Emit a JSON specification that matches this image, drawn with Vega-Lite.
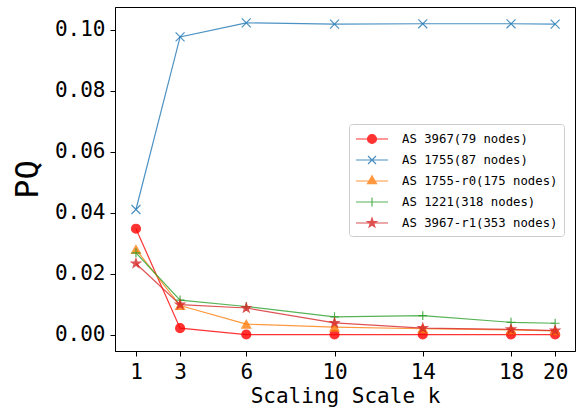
{
  "$schema": "https://vega.github.io/schema/vega-lite/v6.json",
  "autosize": {"type": "none"},
  "padding": {"left": 115, "top": 7, "right": 7, "bottom": 60},
  "width": 460,
  "height": 344,
  "background": "white",
  "config": {
    "view": {"stroke": "black", "strokeWidth": 1},
    "axis": {
      "domainColor": "black", "tickColor": "black", "labelColor": "black", "titleColor": "black",
      "tickSize": 5, "tickWidth": 1, "grid": false,
      "labelFont": "DejaVu Sans Mono", "labelFontSize": 21,
      "titleFont": "DejaVu Sans Mono", "titleFontWeight": "normal"
    },
    "legend": {
      "title": null, "orient": "none", "legendX": 234, "legendY": 117,
      "padding": 6, "fillColor": "rgba(255,255,255,0.8)", "strokeColor": "#cccccc", "cornerRadius": 3,
      "symbolSize": 256, "symbolOffset": 8, "labelOffset": 21, "rowPadding": 5, "symbolStrokeWidth": 1.2,
      "labelFont": "DejaVu Sans Mono", "labelFontSize": 12.3, "labelColor": "black", "labelLimit": 300
    }
  },
  "data": {"values": [
    {"k": 1, "series": "AS 3967(79 nodes)", "pq": 0.0347},
    {"k": 3, "series": "AS 3967(79 nodes)", "pq": 0.0021},
    {"k": 6, "series": "AS 3967(79 nodes)", "pq": 0.0},
    {"k": 10, "series": "AS 3967(79 nodes)", "pq": 0.0},
    {"k": 14, "series": "AS 3967(79 nodes)", "pq": 0.0},
    {"k": 18, "series": "AS 3967(79 nodes)", "pq": 0.0},
    {"k": 20, "series": "AS 3967(79 nodes)", "pq": 0.0},
    {"k": 1, "series": "AS 1755(87 nodes)", "pq": 0.041},
    {"k": 3, "series": "AS 1755(87 nodes)", "pq": 0.0976},
    {"k": 6, "series": "AS 1755(87 nodes)", "pq": 0.1022},
    {"k": 10, "series": "AS 1755(87 nodes)", "pq": 0.1018},
    {"k": 14, "series": "AS 1755(87 nodes)", "pq": 0.1019},
    {"k": 18, "series": "AS 1755(87 nodes)", "pq": 0.1019},
    {"k": 20, "series": "AS 1755(87 nodes)", "pq": 0.1018},
    {"k": 1, "series": "AS 1755-r0(175 nodes)", "pq": 0.0279},
    {"k": 3, "series": "AS 1755-r0(175 nodes)", "pq": 0.0095},
    {"k": 6, "series": "AS 1755-r0(175 nodes)", "pq": 0.0034},
    {"k": 10, "series": "AS 1755-r0(175 nodes)", "pq": 0.0024},
    {"k": 14, "series": "AS 1755-r0(175 nodes)", "pq": 0.0019},
    {"k": 18, "series": "AS 1755-r0(175 nodes)", "pq": 0.0015},
    {"k": 20, "series": "AS 1755-r0(175 nodes)", "pq": 0.0012},
    {"k": 1, "series": "AS 1221(318 nodes)", "pq": 0.0268},
    {"k": 3, "series": "AS 1221(318 nodes)", "pq": 0.0113},
    {"k": 6, "series": "AS 1221(318 nodes)", "pq": 0.0092},
    {"k": 10, "series": "AS 1221(318 nodes)", "pq": 0.0058},
    {"k": 14, "series": "AS 1221(318 nodes)", "pq": 0.0062},
    {"k": 18, "series": "AS 1221(318 nodes)", "pq": 0.004},
    {"k": 20, "series": "AS 1221(318 nodes)", "pq": 0.0037},
    {"k": 1, "series": "AS 3967-r1(353 nodes)", "pq": 0.0233},
    {"k": 3, "series": "AS 3967-r1(353 nodes)", "pq": 0.0098},
    {"k": 6, "series": "AS 3967-r1(353 nodes)", "pq": 0.0087},
    {"k": 10, "series": "AS 3967-r1(353 nodes)", "pq": 0.0038},
    {"k": 14, "series": "AS 3967-r1(353 nodes)", "pq": 0.0021},
    {"k": 18, "series": "AS 3967-r1(353 nodes)", "pq": 0.0017},
    {"k": 20, "series": "AS 3967-r1(353 nodes)", "pq": 0.0013}
  ]},
  "encoding": {
    "x": {"field": "k", "type": "quantitative",
      "scale": {"domain": [0.05, 20.9], "nice": false, "zero": false},
      "axis": {"values": [1, 3, 6, 10, 14, 18, 20], "title": "Scaling Scale k", "titleFontSize": 21, "labelPadding": 5, "titlePadding": 3, "labelFlush": false}},
    "y": {"field": "pq", "type": "quantitative",
      "scale": {"domain": [-0.0054, 0.1074], "nice": false, "zero": false},
      "axis": {"values": [0, 0.02, 0.04, 0.06, 0.08, 0.1], "format": ".2f", "title": "PQ", "titleFontSize": 32, "labelPadding": 5, "titlePadding": 10}}
  },
  "layer": [
    {
      "mark": {"type": "line", "strokeWidth": 1.2, "opacity": 0.8},
      "encoding": {
        "color": {"field": "series", "type": "nominal",
          "scale": {"domain": ["AS 3967(79 nodes)", "AS 1755(87 nodes)", "AS 1755-r0(175 nodes)", "AS 1221(318 nodes)", "AS 3967-r1(353 nodes)"],
                    "range": ["#ff0000", "#1f77b4", "#ff7f0e", "#2ca02c", "#d62728"]},
          "legend": {"title": null}}
      }
    },
    {
      "transform": [{"filter": {"field": "series", "equal": "AS 3967(79 nodes)"}}],
      "mark": {"type": "point", "shape": "circle", "filled": true, "fill": "#ff0000", "stroke": "#ff0000", "size": 80, "strokeWidth": 1.2, "opacity": 0.8}
    },
    {
      "transform": [{"filter": {"field": "series", "equal": "AS 1755(87 nodes)"}}],
      "mark": {"type": "point", "shape": "M-1,-1L1,1M-1,1L1,-1", "filled": false, "stroke": "#1f77b4", "size": 80, "strokeWidth": 1.2, "opacity": 0.8}
    },
    {
      "transform": [{"filter": {"field": "series", "equal": "AS 1755-r0(175 nodes)"}}],
      "mark": {"type": "point", "shape": "triangle-up", "filled": true, "fill": "#ff7f0e", "stroke": "#ff7f0e", "size": 80, "strokeWidth": 1.2, "opacity": 0.8}
    },
    {
      "transform": [{"filter": {"field": "series", "equal": "AS 1221(318 nodes)"}}],
      "mark": {"type": "point", "shape": "M-1,0H1M0,-1V1", "filled": false, "stroke": "#2ca02c", "size": 80, "strokeWidth": 1.2, "opacity": 0.8}
    },
    {
      "transform": [{"filter": {"field": "series", "equal": "AS 3967-r1(353 nodes)"}}],
      "mark": {"type": "point", "shape": "M0,-1L0.2351,-0.3236L0.9511,-0.309L0.3804,0.1236L0.5878,0.809L0,0.4L-0.5878,0.809L-0.3804,0.1236L-0.9511,-0.309L-0.2351,-0.3236Z", "filled": true, "fill": "#d62728", "stroke": "#d62728", "size": 90, "strokeWidth": 1.2, "opacity": 0.8}
    },
    {
      "transform": [{"filter": "datum.k < 0"}],
      "mark": {"type": "point", "filled": true, "strokeWidth": 1.2, "opacity": 0.8},
      "encoding": {
        "fill": {"field": "series", "type": "nominal",
          "scale": {"domain": ["AS 3967(79 nodes)", "AS 1755(87 nodes)", "AS 1755-r0(175 nodes)", "AS 1221(318 nodes)", "AS 3967-r1(353 nodes)"],
                    "range": ["#ff0000", "#1f77b4", "#ff7f0e", "#2ca02c", "#d62728"]},
          "legend": {"title": null}},
        "shape": {"field": "series", "type": "nominal",
          "scale": {"domain": ["AS 3967(79 nodes)", "AS 1755(87 nodes)", "AS 1755-r0(175 nodes)", "AS 1221(318 nodes)", "AS 3967-r1(353 nodes)"],
                    "range": ["M-2,0H2M0.56,0A0.56,0.56,0,1,1,-0.56,0A0.56,0.56,0,1,1,0.56,0Z", "M-2,0H2M-0.5,-0.5L0.5,0.5M-0.5,0.5L0.5,-0.5", "M-2,0H2M0,-0.65L0.56,0.33L-0.56,0.33Z", "M-2,0H2M0,-0.55V0.55", "M-2,0H2M0,-0.6L0.1411,-0.1942L0.5706,-0.1854L0.2283,0.0742L0.3527,0.4854L0,0.24L-0.3527,0.4854L-0.2283,0.0742L-0.5706,-0.1854L-0.1411,-0.1942Z"]},
          "legend": {"title": null}}
      }
    }
  ]
}
